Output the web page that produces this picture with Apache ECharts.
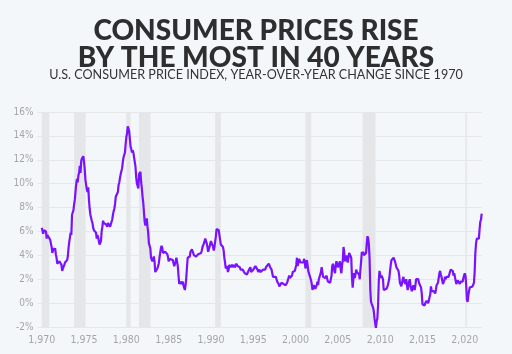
<!DOCTYPE html>
<html>
<head>
<meta charset="utf-8">
<script src="https://cdn.jsdelivr.net/npm/echarts@6/dist/echarts.min.js"></script>
<style>
  html, body { margin: 0; padding: 0; background: #f4f7fa; }
  #chart { width: 512px; height: 354px; }
</style>
</head>
<body>
<div id="chart"></div>
<script>
// 美国CPI同比变化（月度，1970年1月起）
const startYear = 1970;
const cpiYoY = [
  // 1970
  6.3, 6.1, 5.8, 6.1, 6.0, 6.0, 6.0, 5.4, 5.7, 5.7, 5.6, 5.6,
  // 1971
  5.3, 5.0, 4.7, 4.2, 4.4, 4.6, 4.4, 4.6, 4.1, 3.8, 3.3, 3.3,
  // 1972
  3.3, 3.5, 3.5, 3.5, 3.2, 2.7, 2.9, 2.9, 3.2, 3.4, 3.5, 3.4,
  // 1973
  3.6, 3.9, 4.6, 5.1, 5.5, 5.9, 5.7, 7.4, 7.4, 7.8, 8.3, 8.7,
  // 1974
  9.4, 10.0, 10.4, 10.1, 10.7, 10.9, 11.5, 10.9, 11.9, 12.1, 12.2, 12.3,
  // 1975
  11.8, 11.2, 10.3, 10.2, 9.5, 9.3, 9.7, 8.6, 7.9, 7.4, 7.4, 6.9,
  // 1976
  6.7, 6.3, 6.1, 6.0, 6.2, 5.9, 5.4, 5.7, 5.5, 5.5, 4.9, 4.9,
  // 1977
  5.2, 6.0, 6.4, 6.9, 6.7, 6.8, 6.8, 6.6, 6.6, 6.4, 6.7, 6.7,
  // 1978
  6.8, 6.4, 6.6, 6.5, 7.0, 7.4, 7.7, 7.9, 8.3, 8.9, 8.9, 9.0,
  // 1979
  9.3, 9.9, 10.1, 10.5, 10.8, 10.9, 11.3, 11.8, 12.2, 12.1, 12.6, 13.3,
  // 1980
  13.9, 14.2, 14.8, 14.7, 14.4, 14.4, 13.1, 12.9, 12.6, 12.8, 12.6, 12.5,
  // 1981
  11.8, 11.4, 10.5, 10.0, 9.8, 9.6, 10.8, 10.8, 11.0, 10.1, 9.6, 8.9,
  // 1982
  8.4, 7.6, 6.8, 6.5, 6.7, 7.1, 6.4, 5.9, 5.0, 5.1, 4.6, 3.8,
  // 1983
  3.7, 3.5, 3.6, 3.9, 3.5, 2.6, 2.5, 2.6, 2.9, 2.9, 3.3, 3.8,
  // 1984
  4.2, 4.6, 4.8, 4.6, 4.2, 4.2, 4.2, 4.3, 4.3, 4.3, 4.1, 3.9,
  // 1985
  3.5, 3.5, 3.7, 3.7, 3.8, 3.8, 3.6, 3.3, 3.1, 3.2, 3.5, 3.8,
  // 1986
  3.9, 3.1, 2.3, 1.6, 1.5, 1.8, 1.6, 1.6, 1.8, 1.5, 1.3, 1.1,
  // 1987
  1.5, 2.1, 3.0, 3.8, 3.9, 3.7, 3.9, 4.3, 4.4, 4.5, 4.5, 4.4,
  // 1988
  4.0, 3.9, 3.9, 3.9, 3.9, 4.0, 4.1, 4.0, 4.2, 4.2, 4.2, 4.4,
  // 1989
  4.7, 4.8, 5.0, 5.1, 5.4, 5.2, 5.0, 4.7, 4.3, 4.5, 4.7, 4.6,
  // 1990
  5.2, 5.3, 5.2, 4.7, 4.4, 4.7, 4.8, 5.6, 6.2, 6.3, 6.3, 6.1,
  // 1991
  5.7, 5.3, 4.9, 4.9, 5.0, 4.7, 4.4, 3.8, 3.4, 2.9, 3.0, 3.1,
  // 1992
  2.6, 2.8, 3.2, 3.2, 3.0, 3.1, 3.2, 3.1, 3.0, 3.2, 3.0, 2.9,
  // 1993
  3.3, 3.2, 3.1, 3.2, 3.2, 3.0, 2.8, 2.8, 2.7, 2.8, 2.7, 2.7,
  // 1994
  2.5, 2.5, 2.5, 2.4, 2.3, 2.5, 2.8, 2.9, 3.0, 2.6, 2.7, 2.7,
  // 1995
  2.8, 2.9, 2.9, 3.1, 3.2, 3.0, 2.8, 2.6, 2.5, 2.8, 2.6, 2.5,
  // 1996
  2.7, 2.7, 2.8, 2.9, 2.9, 2.8, 3.0, 2.9, 3.0, 3.0, 3.3, 3.3,
  // 1997
  3.0, 3.0, 2.8, 2.5, 2.2, 2.3, 2.2, 2.2, 2.2, 2.1, 1.8, 1.7,
  // 1998
  1.6, 1.4, 1.4, 1.4, 1.7, 1.7, 1.7, 1.6, 1.5, 1.5, 1.5, 1.6,
  // 1999
  1.7, 1.6, 1.7, 2.3, 2.1, 2.0, 2.1, 2.3, 2.6, 2.6, 2.6, 2.7,
  // 2000
  2.7, 3.2, 3.8, 3.1, 3.2, 3.7, 3.7, 3.4, 3.5, 3.4, 3.4, 3.4,
  // 2001
  3.7, 3.5, 2.9, 3.3, 3.6, 3.2, 2.7, 2.7, 2.6, 2.1, 1.9, 1.6,
  // 2002
  1.1, 1.1, 1.5, 1.6, 1.2, 1.1, 1.5, 1.8, 1.5, 2.0, 2.2, 2.4,
  // 2003
  2.6, 3.0, 3.0, 2.2, 2.1, 2.1, 2.1, 2.2, 2.3, 2.0, 1.8, 1.9,
  // 2004
  1.9, 1.7, 1.7, 2.3, 3.1, 3.3, 3.0, 2.7, 2.5, 3.2, 3.5, 3.3,
  // 2005
  3.0, 3.0, 3.1, 3.5, 2.8, 2.5, 3.2, 3.6, 4.7, 4.3, 3.5, 3.4,
  // 2006
  4.0, 3.6, 3.4, 3.5, 4.2, 4.3, 4.1, 3.8, 2.1, 1.3, 2.0, 2.5,
  // 2007
  2.1, 2.4, 2.8, 2.6, 2.7, 2.7, 2.4, 2.0, 2.8, 3.5, 4.3, 4.1,
  // 2008
  4.3, 4.0, 4.0, 3.9, 4.2, 5.0, 5.6, 5.4, 4.9, 3.7, 1.1, 0.1,
  // 2009
  0.0, 0.2, -0.4, -0.7, -1.3, -1.4, -2.1, -1.5, -1.3, -0.2, 1.8, 2.7,
  // 2010
  2.6, 2.1, 2.3, 2.2, 2.0, 1.1, 1.2, 1.1, 1.1, 1.2, 1.1, 1.5,
  // 2011
  1.6, 2.1, 2.7, 3.2, 3.6, 3.6, 3.6, 3.8, 3.9, 3.5, 3.4, 3.0,
  // 2012
  2.9, 2.9, 2.7, 2.3, 1.7, 1.7, 1.4, 1.7, 2.0, 2.2, 1.8, 1.7,
  // 2013
  1.6, 2.0, 1.5, 1.1, 1.4, 1.8, 2.0, 1.5, 1.2, 1.0, 1.2, 1.5,
  // 2014
  1.6, 1.1, 1.5, 2.0, 2.1, 2.1, 2.0, 1.7, 1.7, 1.7, 1.3, 0.8,
  // 2015
  -0.1, 0.0, -0.1, -0.2, 0.0, 0.1, 0.2, 0.2, 0.0, 0.2, 0.5, 0.7,
  // 2016
  1.4, 1.0, 0.9, 1.1, 1.0, 1.0, 0.8, 1.1, 1.5, 1.6, 1.7, 2.1,
  // 2017
  2.5, 2.7, 2.4, 2.2, 1.9, 1.6, 1.7, 1.9, 2.2, 2.0, 2.2, 2.1,
  // 2018
  2.1, 2.2, 2.4, 2.5, 2.8, 2.9, 2.9, 2.7, 2.3, 2.5, 2.2, 1.9,
  // 2019
  1.6, 1.5, 1.9, 2.0, 1.8, 1.6, 1.8, 1.7, 1.7, 1.8, 2.1, 2.3,
  // 2020
  2.5, 2.3, 1.5, 0.3, 0.1, 0.6, 1.0, 1.3, 1.4, 1.2, 1.2, 1.4,
  // 2021
  1.4, 1.7, 2.6, 4.2, 5.0, 5.4, 5.4, 5.3, 5.4, 6.2, 6.8, 7.0,
  // 2022
  7.5
];

// 经济衰退区间（年份，小数表示月份）
const recessionStarts = [1970.0, 1973.83, 1980.0, 1981.5, 1990.5, 2001.17, 2007.92, 2020.08];
const recessionEnds   = [1970.9, 1975.17, 1980.5, 1982.85, 1991.17, 2001.85, 2009.45, 2020.25];

// x轴标签
const yearLabels = [1970, 1975, 1980, 1985, 1990, 1995, 2000, 2005, 2010, 2015, 2020];

const titleText = 'CONSUMER PRICES RISE\nBY THE MOST IN 40 YEARS';
const subtitleText = 'U.S. CONSUMER PRICE INDEX, YEAR-OVER-YEAR CHANGE SINCE 1970';

const linePoints = cpiYoY.map((v, i) => [startYear + i / 12, v]);
const bands = recessionStarts.map((s, i) => [{ xAxis: s }, { xAxis: recessionEnds[i] }]);

const chart = echarts.init(document.getElementById('chart'));

const labelFont = "'Liberation Sans Narrow', 'DejaVu Sans Condensed', sans-serif";

const option = {
  backgroundColor: '#f4f7fa',
  animation: false,
  title: [
    {
      text: titleText,
      left: 'center',
      top: 12,
      textStyle: {
        fontFamily: 'Lato',
        fontWeight: 900,
        fontSize: 28,
        lineHeight: 27,
        color: '#2e2e2e'
      }
    },
    {
      text: subtitleText,
      left: 'center',
      top: 63,
      textStyle: {
        fontFamily: 'Lato',
        fontWeight: 400,
        fontSize: 12.6,
        color: '#333'
      }
    }
  ],
  grid: {
    left: 37.5,
    right: 30.3,
    top: 112,
    bottom: 27
  },
  xAxis: {
    type: 'value',
    min: 1969.5,
    max: 2022,
    axisLine: { show: false },
    axisTick: { show: false },
    splitLine: { show: false },
    axisLabel: {
      customValues: yearLabels,
      color: '#a5a5a5',
      fontFamily: labelFont,
      fontSize: 10.5,
      margin: 8
    }
  },
  yAxis: {
    type: 'value',
    min: -2,
    max: 16,
    interval: 2,
    axisLine: { show: false },
    axisTick: { show: false },
    splitLine: { lineStyle: { color: '#e6e7e9', width: 1 } },
    axisLabel: {
      formatter: '{value}%',
      color: '#a5a5a5',
      fontFamily: labelFont,
      fontSize: 10,
      margin: 4
    }
  },
  series: [
    {
      name: 'recessions',
      type: 'line',
      data: [],
      z: 1,
      silent: true,
      markArea: {
        silent: true,
        itemStyle: { color: '#e4e6e8', opacity: 1 },
        data: bands
      }
    },
    {
      name: 'CPI',
      type: 'line',
      data: linePoints,
      z: 5,
      showSymbol: false,
      symbol: 'none',
      lineStyle: { color: '#7a12ff', width: 2.2 },
      itemStyle: { color: '#7a12ff' }
    }
  ]
};

chart.setOption(option);
</script>
</body>
</html>
